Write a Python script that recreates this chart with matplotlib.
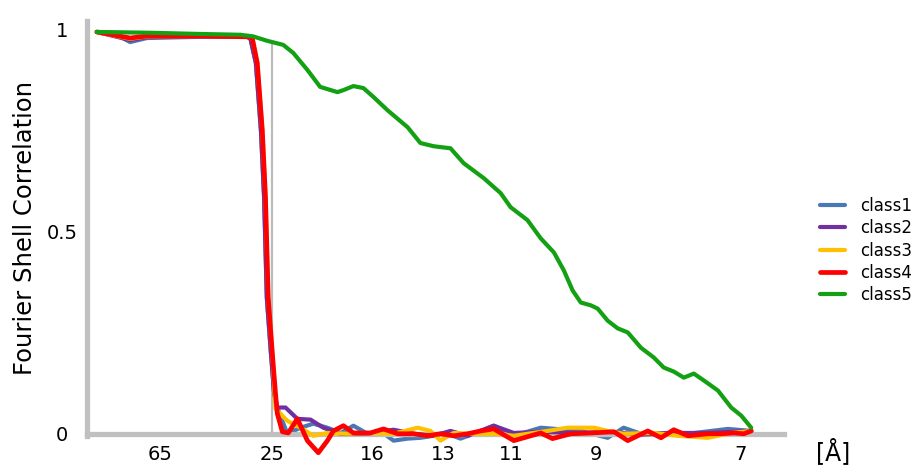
import matplotlib
matplotlib.use("Agg")
import matplotlib.pyplot as plt

# spatial frequency (1/A) and FSC values
class1_freq = [0.0015, 0.0055, 0.0088, 0.0125, 0.0242, 0.0345, 0.0352, 0.0364, 0.0375, 0.0382, 0.0388,
               0.0397, 0.0404, 0.0411, 0.0433, 0.0462, 0.0490, 0.0521, 0.0550, 0.0578, 0.0609, 0.0637,
               0.0666, 0.0697, 0.0725, 0.0754, 0.0785, 0.0813, 0.0842, 0.0886, 0.0930, 0.0989, 0.1077,
               0.1136, 0.1171, 0.1209, 0.1268, 0.1312, 0.1400, 0.1451]
class1_fsc = [0.995, 0.990, 0.970, 0.980, 0.983, 0.983, 0.978, 0.918, 0.752, 0.586, 0.337,
              0.200, 0.100, 0.064, 0.000, 0.015, 0.025, 0.015, 0.002, 0.020, 0.000, 0.007,
              -0.017, -0.012, -0.010, -0.005, 0.000, -0.012, 0.000, 0.020, -0.005, 0.015, 0.007,
              -0.010, 0.015, 0.000, 0.002, 0.000, 0.012, 0.007]

class2_freq = [0.0015, 0.0088, 0.0125, 0.0242, 0.0345, 0.0352, 0.0364, 0.0375, 0.0382, 0.0388,
               0.0397, 0.0404, 0.0411, 0.0429, 0.0455, 0.0484, 0.0512, 0.0550, 0.0587, 0.0622,
               0.0666, 0.0710, 0.0754, 0.0791, 0.0829, 0.0886, 0.0930, 0.0989, 0.1077, 0.1136,
               0.1209, 0.1280, 0.1356, 0.1451]
class2_fsc = [0.995, 0.975, 0.982, 0.984, 0.983, 0.979, 0.918, 0.752, 0.586, 0.337,
              0.200, 0.100, 0.065, 0.065, 0.037, 0.035, 0.015, 0.000, 0.000, 0.002,
              0.010, 0.000, -0.005, 0.007, -0.005, 0.020, 0.002, 0.005, 0.002, 0.005,
              -0.002, 0.002, 0.002, 0.007]

class3_freq = [0.0015, 0.0088, 0.0125, 0.0242, 0.0345, 0.0356, 0.0367, 0.0378, 0.0385, 0.0391,
               0.0400, 0.0407, 0.0433, 0.0462, 0.0490, 0.0521, 0.0565, 0.0609, 0.0666, 0.0719,
               0.0747, 0.0769, 0.0798, 0.0842, 0.0886, 0.0930, 0.1004, 0.1048, 0.1106, 0.1136,
               0.1171, 0.1237, 0.1290, 0.1356, 0.1407, 0.1451]
class3_fsc = [0.995, 0.978, 0.984, 0.985, 0.984, 0.980, 0.918, 0.752, 0.586, 0.337,
              0.200, 0.062, 0.032, 0.015, -0.005, 0.002, 0.000, 0.002, 0.000, 0.015,
              0.007, -0.017, 0.002, 0.000, 0.000, -0.005, 0.007, 0.015, 0.015, 0.007,
              0.000, 0.002, -0.005, -0.010, 0.002, 0.007]

class4_freq = [0.0015, 0.0088, 0.0125, 0.0242, 0.0345, 0.0356, 0.0367, 0.0378, 0.0385, 0.0391,
               0.0400, 0.0407, 0.0411, 0.0422, 0.0435, 0.0455, 0.0477, 0.0501, 0.0521, 0.0534,
               0.0556, 0.0578, 0.0615, 0.0644, 0.0675, 0.0710, 0.0741, 0.0769, 0.0798, 0.0829,
               0.0857, 0.0886, 0.0930, 0.0989, 0.1015, 0.1055, 0.1099, 0.1150, 0.1180, 0.1224,
               0.1253, 0.1281, 0.1312, 0.1356, 0.1385, 0.1413, 0.1435, 0.1451]
class4_fsc = [0.995, 0.980, 0.985, 0.985, 0.983, 0.980, 0.918, 0.752, 0.586, 0.337,
              0.200, 0.100, 0.050, 0.005, 0.002, 0.037, -0.017, -0.047, -0.017, 0.007,
              0.020, 0.002, 0.002, 0.012, 0.000, 0.000, -0.005, 0.000, -0.005, 0.000,
              0.007, 0.012, -0.017, 0.002, -0.012, 0.000, 0.002, 0.005, -0.017, 0.007,
              -0.010, 0.010, -0.005, 0.000, 0.000, 0.002, 0.000, 0.007]

class5_freq = [0.0015, 0.0132, 0.0242, 0.0330, 0.0358, 0.0389, 0.0424, 0.0446, 0.0477, 0.0505,
               0.0543, 0.0556, 0.0578, 0.0600, 0.0622, 0.0653, 0.0697, 0.0725, 0.0754, 0.0791,
               0.0820, 0.0864, 0.0901, 0.0923, 0.0960, 0.0989, 0.1018, 0.1040, 0.1059, 0.1077,
               0.1099, 0.1114, 0.1136, 0.1158, 0.1180, 0.1209, 0.1237, 0.1259, 0.1281, 0.1303,
               0.1325, 0.1347, 0.1378, 0.1407, 0.1429, 0.1451]
class5_fsc = [0.995, 0.993, 0.990, 0.988, 0.984, 0.973, 0.963, 0.943, 0.901, 0.859,
              0.846, 0.851, 0.861, 0.856, 0.834, 0.801, 0.759, 0.720, 0.712, 0.707,
              0.670, 0.633, 0.596, 0.561, 0.529, 0.484, 0.449, 0.404, 0.355, 0.325,
              0.318, 0.310, 0.280, 0.261, 0.251, 0.213, 0.189, 0.164, 0.154, 0.139,
              0.149, 0.132, 0.107, 0.065, 0.045, 0.015]

labels = ["class1", "class2", "class3", "class4", "class5"]
colors = ["#4a78b4", "#7030a0", "#ffc000", "#ff0000", "#13a013"]

tick_freq = [1 / 65, 1 / 25, 0.0620, 0.0775, 0.0925, 1 / 9, 1 / 7]
tick_labels = ["65", "25", "16", "13", "11", "9", "7"]
cutoff_freq = 1 / 25
cutoff_top = 0.965

fig = plt.figure(figsize=(9.17, 4.65), dpi=100)
ax = fig.add_axes([0.0949, 0.01505, 0.7601, 0.9388])

ax.vlines(cutoff_freq, 0, cutoff_top, color="#bbbbbb", linewidth=1.6, zorder=1)

series = [(class1_freq, class1_fsc), (class2_freq, class2_fsc), (class3_freq, class3_fsc),
          (class4_freq, class4_fsc), (class5_freq, class5_fsc)]
for i, (f, v) in enumerate(series):
    lw = 3.4 if i == 3 else 3.0
    ax.plot(f, v, color=colors[i], linewidth=lw, label=labels[i],
            solid_joinstyle="round", solid_capstyle="round", zorder=2 + i)

ax.set_xlim(-0.00066, 0.1523)
ax.set_ylim(-0.06, 1.021)

for s in ["top", "right"]:
    ax.spines[s].set_visible(False)
ax.spines["bottom"].set_position(("data", 0))
for s in ["left", "bottom"]:
    ax.spines[s].set_color("#c0c0c0")
    ax.spines[s].set_linewidth(3.8)
ax.spines["left"].set_bounds(-0.006, 1.021)

ax.set_xticks(tick_freq)
ax.set_xticklabels(tick_labels, fontsize=14)
ax.set_yticks([0, 0.5, 1])
ax.set_yticklabels(["0", "0.5", "1"], fontsize=14, ha="center")
ax.tick_params(axis="x", length=0, pad=8)
ax.tick_params(axis="y", length=0, pad=18)

fig.text(25 / 917, 1 - 228 / 465, "Fourier Shell Correlation", rotation=90,
         ha="center", va="center", fontsize=17.5)
fig.text(833 / 917, 1 - 452 / 465, "[Å]", ha="center", va="center", fontsize=17)

ax.legend(loc="center left", bbox_to_anchor=(820 / 917, 1 - 250.5 / 465),
          bbox_transform=fig.transFigure, frameon=False, fontsize=12,
          handlelength=1.5, handletextpad=0.9, labelspacing=0.25,
          borderpad=0, borderaxespad=0)

fig.savefig("out.png", dpi=100)
